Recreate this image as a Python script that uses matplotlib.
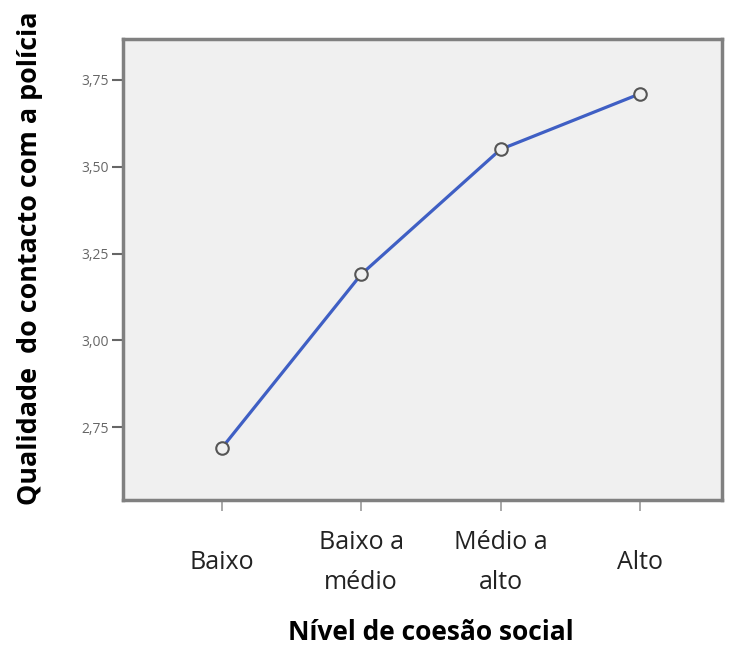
import matplotlib.pyplot as plt

niveis = ['Baixo', 'Baixo a\nmédio', 'Médio a\nalto', 'Alto']
qualidade = [2.69, 3.19, 3.55, 3.71]
yticks = [2.75, 3.00, 3.25, 3.50, 3.75]
ytick_labels = ['2,75', '3,00', '3,25', '3,50', '3,75']


def main():
    plt.rcParams['font.family'] = ['Open Sans', 'DejaVu Sans']
    fig = plt.figure(figsize=(7.31, 6.5), dpi=100)
    ax = fig.add_axes([123 / 731, 1 - 500 / 650, 599 / 731, 461 / 650])

    x = list(range(len(niveis)))
    ax.plot(x, qualidade, color='#3f5fc4', lw=2.3, zorder=3)
    ax.plot(x, qualidade, 'o', ms=9, mfc='#f0f0f0', mec='#555555', mew=1.5, zorder=4)

    ax.set_facecolor('#f0f0f0')
    ax.set_xlim(-0.71, 3.59)
    ax.set_ylim(2.54, 3.868)
    ax.set_yticks(yticks)
    ax.set_yticklabels(ytick_labels, fontsize=10, color='#666666')
    ax.set_xticks(x)
    ax.set_xticklabels(niveis, fontsize=18, color='#222222', linespacing=1.78, va='center')
    ax.tick_params(axis='y', length=8, width=1.5, color='#666666', pad=2)
    ax.tick_params(axis='x', length=8, width=1.2, color='#999999', pad=37)
    for s in ax.spines.values():
        s.set_color('#808080')
        s.set_linewidth(2.5)

    ax.set_xlabel('Nível de coesão social', fontsize=19, fontweight='bold', va='center')
    ax.xaxis.set_label_coords((431 - 123) / 599, -(633 - 500) / 461)
    ax.set_ylabel('Qualidade  do contacto com a polícia', fontsize=19.4, fontweight='bold', va='center')
    ax.yaxis.set_label_coords(-(123 - 30) / 599, (500 - 258) / 461)
    fig.savefig('out.png', dpi=100)


if __name__ == '__main__':
    main()
